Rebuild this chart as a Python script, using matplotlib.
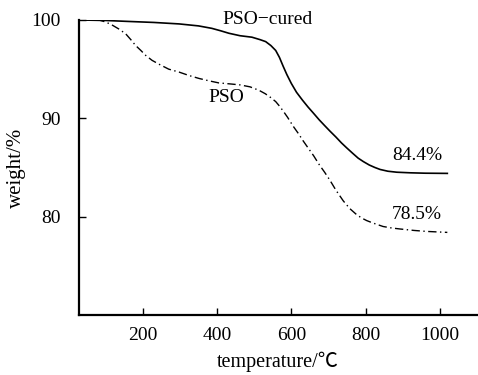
import matplotlib
matplotlib.use("Agg")
import matplotlib.pyplot as plt

plt.rcParams['font.family'] = ['Liberation Serif', 'DejaVu Serif', 'Noto Sans CJK SC']

# PSO-cured (solid)
cured_t = [30, 100, 163, 230, 298, 350, 386, 410, 432, 462, 494, 516, 531, 545, 558, 568, 578,
           588, 600, 614, 630, 645, 659, 675, 690, 704, 720, 735, 749, 765, 780, 794, 810, 825,
           839, 860, 884, 920, 960, 1020]
cured_w = [100, 99.95, 99.85, 99.75, 99.6, 99.4, 99.15, 98.9, 98.65, 98.4, 98.25, 98.0, 97.8,
           97.4, 96.9, 96.2, 95.3, 94.45, 93.55, 92.65, 91.85, 91.15, 90.55, 89.85, 89.25, 88.7,
           88.1, 87.5, 87.0, 86.45, 85.95, 85.6, 85.25, 85.0, 84.8, 84.62, 84.52, 84.46, 84.42, 84.4]

# PSO (dash-dot)
pso_t = [30, 82, 100, 117, 135, 154, 168, 181, 195, 208, 225, 244, 270, 298, 325, 352, 380, 405,
         435, 462, 489, 513, 530, 545, 558, 568, 578, 590, 605, 620, 632, 645, 660, 675, 690, 704,
         720, 740, 758, 776, 790, 803, 820, 847, 870, 892, 930, 964, 1020]
pso_w = [100, 100, 99.8, 99.5, 99.1, 98.6, 98.0, 97.4, 96.9, 96.4, 95.9, 95.5, 95.0, 94.7, 94.35,
         94.05, 93.8, 93.6, 93.5, 93.4, 93.2, 92.85, 92.5, 92.1, 91.7, 91.25, 90.75, 90.1, 89.2,
         88.4, 87.7, 87.0, 86.2, 85.3, 84.5, 83.7, 82.7, 81.6, 80.8, 80.2, 79.85, 79.6, 79.35,
         79.0, 78.85, 78.75, 78.6, 78.5, 78.4]

xticks = [200, 400, 600, 800, 1000]
yticks = [80, 90, 100]

fig = plt.figure(figsize=(4.78, 3.75), dpi=100)
ax = fig.add_axes([0.1653, 0.16, 0.8327, 0.7867])

ax.plot(cured_t, cured_w, color='black', lw=1.2, ls='-')
ax.plot(pso_t, pso_w, color='black', lw=1.0, ls=(0, (6, 2.5, 1, 2.5)))

ax.set_xlim(28.5, 1100)
ax.set_ylim(70, 100)
ax.set_xticks(xticks)
ax.set_yticks(yticks)
ax.tick_params(direction='in', length=5, width=1.0, labelsize=14)
ax.tick_params(axis='x', pad=9)
ax.tick_params(axis='y', pad=13)
for s in ['top', 'right']:
    ax.spines[s].set_visible(False)
for s in ['left', 'bottom']:
    ax.spines[s].set_linewidth(1.6)

ax.set_xlabel('temperature/℃', fontsize=14.5, labelpad=5,
              family=['Liberation Serif', 'Noto Sans CJK SC'])
ax.set_ylabel('weight/%', fontsize=15, labelpad=4)

ax.text(536, 100.0, 'PSO−cured', fontsize=14, ha='center', va='center')
ax.text(424, 92.1, 'PSO', fontsize=14, ha='center', va='center')
ax.text(938, 86.2, '84.4%', fontsize=14, ha='center', va='center')
ax.text(938, 80.2, '78.5%', fontsize=14, ha='center', va='center')

fig.savefig('out.png', dpi=100)
